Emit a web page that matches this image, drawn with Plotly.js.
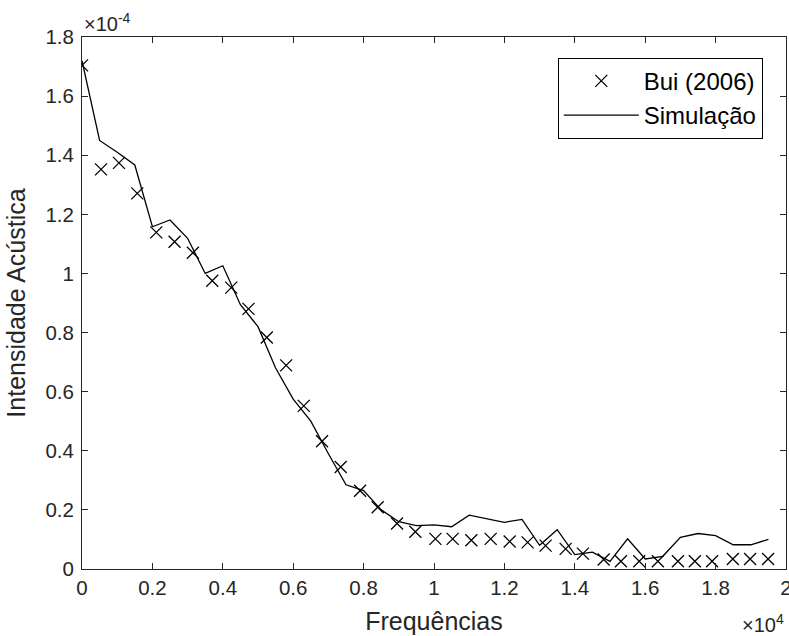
<!DOCTYPE html>
<html>
<head>
<meta charset="utf-8">
<script src="https://cdn.plot.ly/plotly-3.0.1.min.js"></script>
<style>html,body{margin:0;padding:0;background:#fff;}#chart{width:789px;height:636px;}</style>
</head>
<body>
<div id="chart"></div>
<script>
// Frequencies in units of 10^4 Hz, intensities in units of 10^-4
const buiFreq = [0, 0.054, 0.105, 0.157, 0.211, 0.263, 0.315, 0.37, 0.424, 0.473, 0.525, 0.58, 0.63, 0.682, 0.735, 0.79, 0.84, 0.895, 0.947, 1.004, 1.053, 1.106, 1.161, 1.215, 1.266, 1.317, 1.374, 1.423, 1.482, 1.531, 1.583, 1.636, 1.693, 1.741, 1.79, 1.849, 1.898, 1.949];
const buiVal = [1.704, 1.352, 1.374, 1.271, 1.139, 1.107, 1.07, 0.975, 0.952, 0.88, 0.783, 0.689, 0.552, 0.432, 0.345, 0.265, 0.209, 0.154, 0.126, 0.102, 0.102, 0.097, 0.102, 0.093, 0.09, 0.079, 0.068, 0.052, 0.032, 0.026, 0.026, 0.026, 0.026, 0.026, 0.026, 0.034, 0.034, 0.034];

const simFreq = [0, 0.05, 0.1, 0.15, 0.2, 0.25, 0.3, 0.35, 0.4, 0.45, 0.5, 0.55, 0.6, 0.65, 0.7, 0.75, 0.8, 0.85, 0.9, 0.95, 1.0, 1.05, 1.1, 1.15, 1.2, 1.25, 1.3, 1.35, 1.4, 1.45, 1.5, 1.55, 1.6, 1.65, 1.7, 1.75, 1.8, 1.85, 1.9, 1.95];
const simVal = [1.72, 1.45, 1.41, 1.367, 1.158, 1.181, 1.119, 1.0, 1.026, 0.894, 0.82, 0.68, 0.575, 0.5, 0.39, 0.285, 0.265, 0.2, 0.16, 0.147, 0.149, 0.143, 0.182, 0.17, 0.158, 0.168, 0.08, 0.133, 0.049, 0.057, 0.026, 0.102, 0.034, 0.043, 0.107, 0.12, 0.113, 0.082, 0.082, 0.1];

const xTicks = [0, 0.2, 0.4, 0.6, 0.8, 1, 1.2, 1.4, 1.6, 1.8, 2];
const yTicks = [0, 0.2, 0.4, 0.6, 0.8, 1, 1.2, 1.4, 1.6, 1.8];

const font = 'Liberation Sans, Arial, Helvetica, sans-serif';
const axisColor = '#262626';

const traces = [
  {
    x: buiFreq, y: buiVal, type: 'scatter', mode: 'markers', name: 'Bui (2006)',
    marker: {symbol: 'x-thin', size: 12, color: '#000', line: {color: '#000', width: 1.3}}
  },
  {
    x: simFreq, y: simVal, type: 'scatter', mode: 'lines', name: 'Simulação',
    line: {color: '#000', width: 1.3}
  }
];

const axisCommon = {
  showline: true, mirror: 'ticks', linecolor: axisColor, linewidth: 1,
  ticks: 'inside', ticklen: 6, tickcolor: axisColor, tickwidth: 1,
  showgrid: false, zeroline: false, automargin: false,
  ticklabeloverflow: 'allow',
  tickfont: {family: font, size: 20.5, color: axisColor}
};

const layout = {
  width: 789, height: 636,
  margin: {l: 82, r: 3, t: 37, b: 67},
  paper_bgcolor: '#fff', plot_bgcolor: '#fff',
  showlegend: true,
  xaxis: Object.assign({}, axisCommon, {
    range: [0, 2], tickvals: xTicks, ticktext: xTicks.map(String),
    title: {text: 'Frequências', font: {family: font, size: 25, color: axisColor}, standoff: 14}
  }),
  yaxis: Object.assign({}, axisCommon, {
    range: [0, 1.8], tickvals: yTicks, ticktext: yTicks.map(String),
    ticklabelstandoff: 3,
    title: {text: 'Intensidade Acústica', font: {family: font, size: 25, color: axisColor}, standoff: 12}
  }),
  legend: {
    x: 0.967, y: 0.961, xanchor: 'right', yanchor: 'top',
    bordercolor: '#000', borderwidth: 1, bgcolor: '#fff',
    font: {family: font, size: 24, color: '#000'},
    itemwidth: 75
  },
  annotations: [
    {xref: 'paper', yref: 'paper', x: 0, y: 1, xanchor: 'left', yanchor: 'bottom', yshift: 0,
     text: '×10<sup>-4</sup>', showarrow: false, font: {family: font, size: 20, color: axisColor}},
    {xref: 'paper', yref: 'paper', x: 1, y: 0, xanchor: 'right', yanchor: 'top', yshift: -40,
     text: '×10<sup>4</sup>', showarrow: false, font: {family: font, size: 20, color: axisColor}}
  ]
};

Plotly.newPlot('chart', traces, layout, {displayModeBar: false, staticPlot: true});
</script>
</body>
</html>
